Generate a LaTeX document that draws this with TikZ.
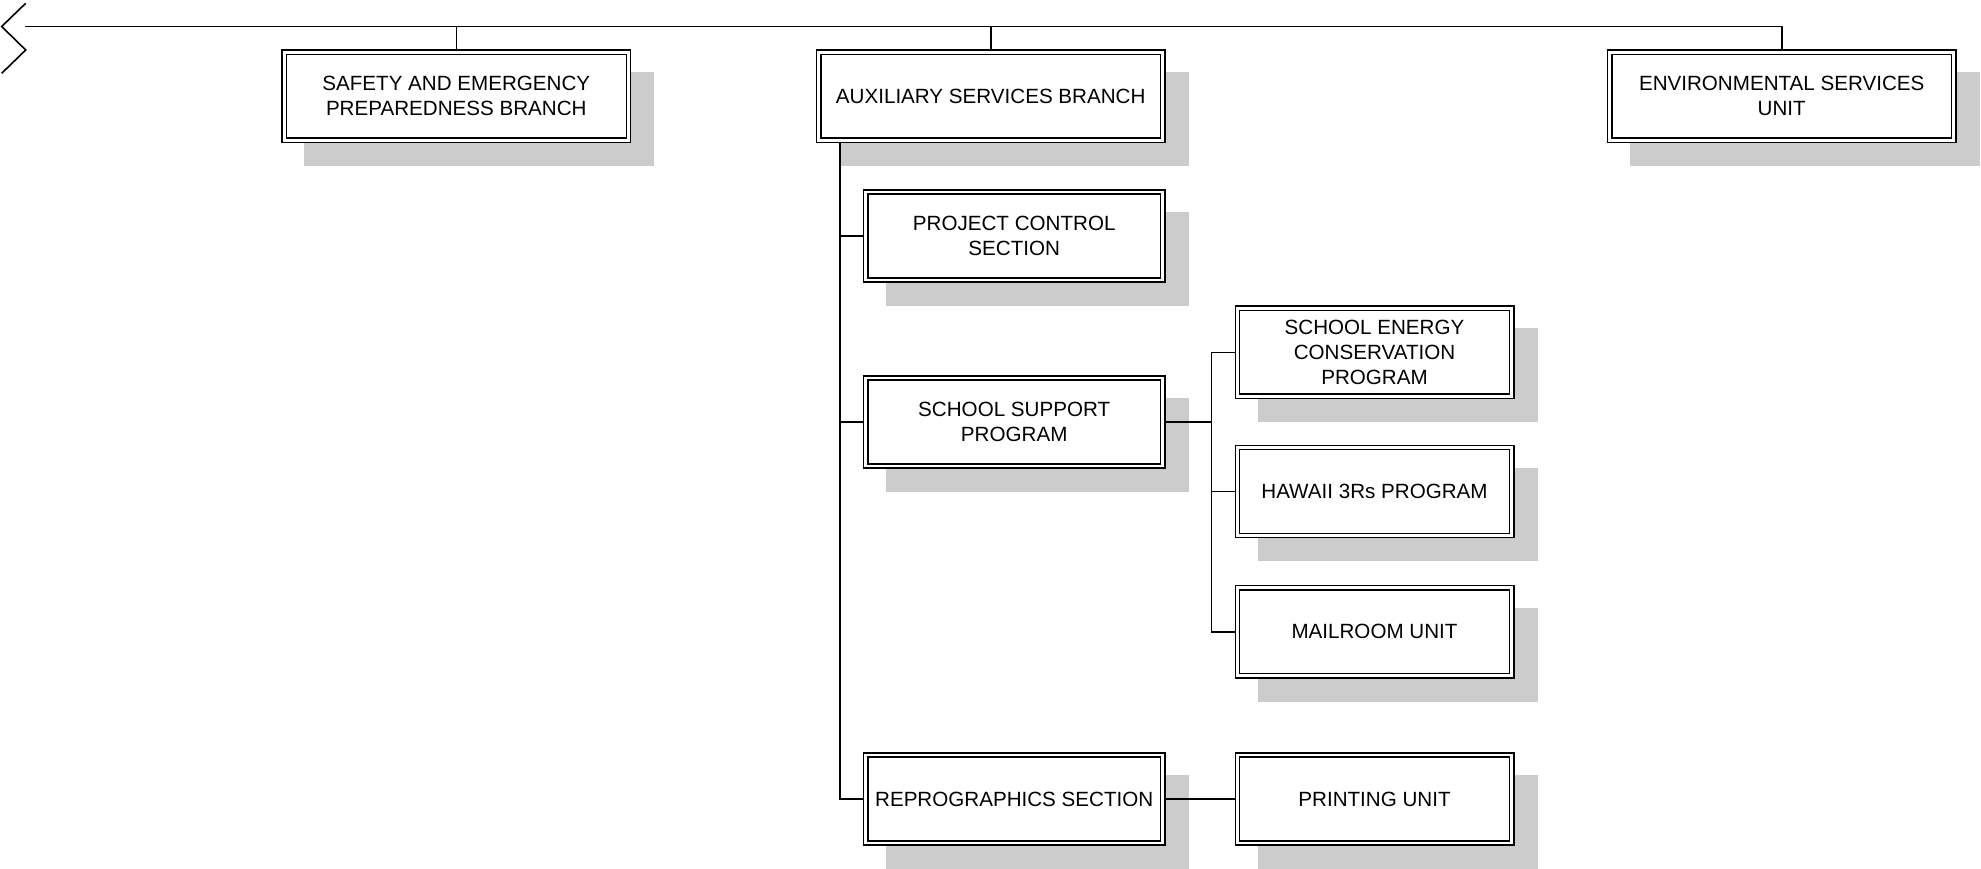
\documentclass[tikz,border=0pt]{standalone}
\usepackage{fontspec}
\setmainfont{Liberation Sans}
\usetikzlibrary{backgrounds}
\tikzset{
  orgbox/.style={draw, double, line width=1.5pt, double distance=2.8pt,
    fill=white, outer sep=2.9pt, inner sep=2pt, align=center,
    font=\fontsize{20.6}{25}\selectfont},
  topbox/.style={orgbox, minimum width=344.2pt, minimum height=88.2pt},
  midbox/.style={orgbox, minimum width=297.2pt, minimum height=87.9pt},
  lowbox/.style={orgbox, minimum width=274.2pt, minimum height=87.9pt},
  conn/.style={line width=1.6pt},
  shadowfill/.style={fill=black!20},
}
\begin{document}
\begin{tikzpicture}[x=1pt,y=-1pt]
\useasboundingbox (0,0) rectangle (1981,869);

\node[topbox] (saf) at (456.3,96.3) {SAFETY AND EMERGENCY\\PREPAREDNESS BRANCH};
\node[topbox] (aux) at (990.7,96.3) {AUXILIARY SERVICES BRANCH};
\node[topbox] (env) at (1781.7,96.3) {ENVIRONMENTAL SERVICES\\UNIT};

\node[midbox] (prj) at (1014.2,236) {PROJECT CONTROL\\SECTION};
\node[midbox] (sup) at (1014.2,422) {SCHOOL SUPPORT\\PROGRAM};
\node[midbox] (rep) at (1014.2,799) {REPROGRAPHICS SECTION};

\node[lowbox] (eng) at (1374.5,352.3) {SCHOOL ENERGY\\CONSERVATION\\PROGRAM};
\node[lowbox] (haw) at (1374.5,491.5) {HAWAII 3Rs PROGRAM};
\node[lowbox] (mai) at (1374.5,631.7) {MAILROOM UNIT};
\node[lowbox] (prn) at (1374.5,799) {PRINTING UNIT};

\begin{scope}[on background layer]
  \foreach \n in {saf,aux,env,prj,sup,rep,eng,haw,mai,prn}{
    \fill[shadowfill] ([shift={(23,23)}]\n.north west) rectangle ([shift={(23,23)}]\n.south east);
  }
\end{scope}

% break symbol
\draw[conn] (25.7,3.3) -- (1.7,26.5) -- (25.7,50) -- (1.7,73.3);
\coordinate (brk) at (25,26.7);

\draw[conn] (brk) -| (env.north);
\draw[conn] (saf.north) -- (saf.north |- brk);
\draw[conn] (aux.north) -- (aux.north |- brk);

\coordinate (trunk) at ([xshift=24.3pt]aux.south west);
\draw[conn] (trunk) |- (rep.west);
\draw[conn] (prj.west) -- (prj.west -| trunk);
\draw[conn] (sup.west) -- (sup.west -| trunk);

\coordinate (tr2) at ([xshift=-23pt]eng.west);
\draw[conn] (sup.east) -- (sup.east -| tr2);
\draw[conn] (eng.west) -- (eng.west -| tr2) |- (mai.west);
\draw[conn] (haw.west) -- (haw.west -| tr2);

\draw[conn] (rep.east) -- (prn.west);
\end{tikzpicture}
\end{document}
